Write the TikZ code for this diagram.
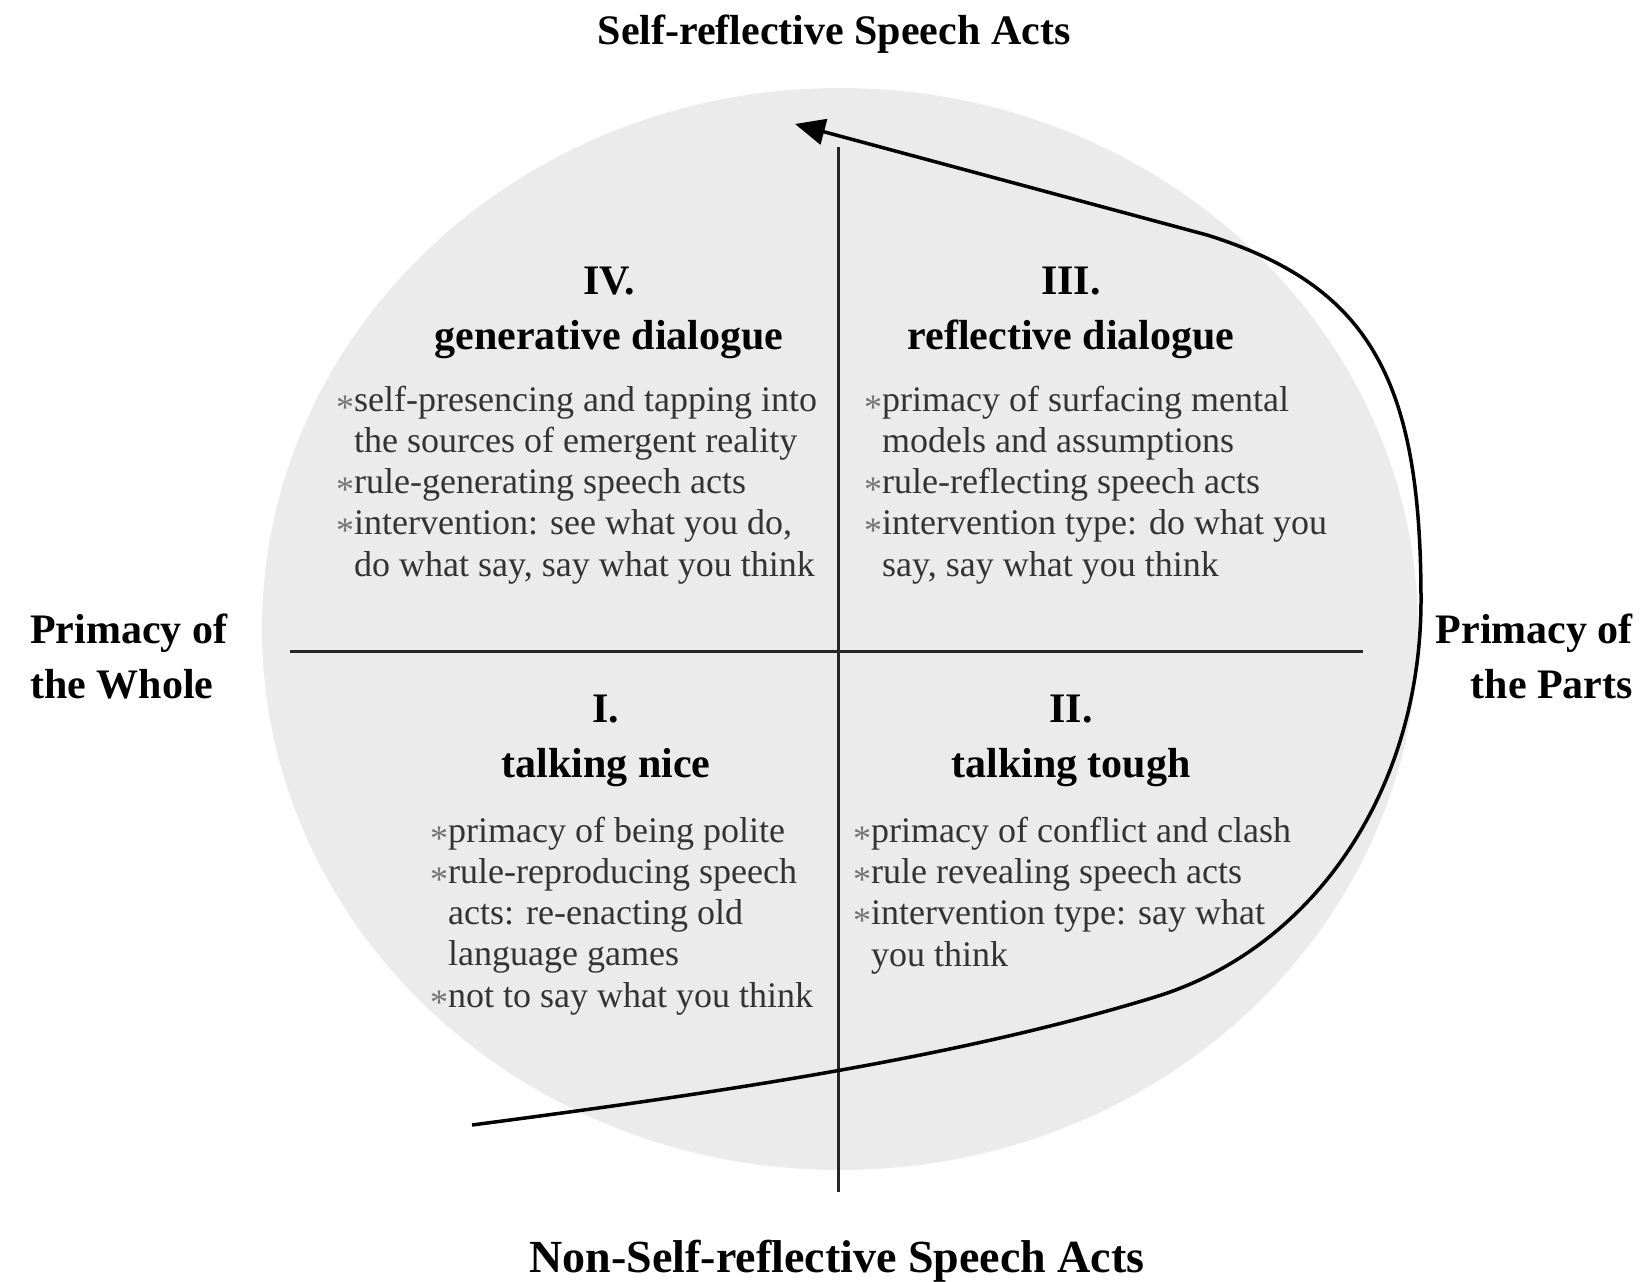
\documentclass[tikz,border=0pt]{standalone}
\usepackage{fontspec}
\setmainfont{Liberation Serif}
\usepackage{xcolor}
\usetikzlibrary{arrows.meta}
\definecolor{discgray}{gray}{0.92}
\definecolor{bodygray}{gray}{0.2}
\tikzset{
axislabel/.style={
  font=\fontsize{42pt}{55pt}\selectfont\bfseries,
  inner sep=0pt, anchor=base
},
quadhead/.style={
  font=\fontsize{42pt}{55pt}\selectfont\bfseries,
  align=center, inner sep=0pt, anchor=base
},
quadtext/.style={
  font=\fontsize{36pt}{41.2pt}\selectfont,
  text=bodygray, align=left, inner sep=0pt, anchor=base west
},
axisline/.style={line width=3pt, black!85},
flowarrow/.style={line width=3.5pt, -{Triangle[length=30pt,width=26pt]}},
}
\newcommand{\st}{\makebox[18pt][l]{\raisebox{-0.22em}{\textcolor{black!55}{*}}}}
\newcommand{\nost}{\hspace*{18pt}}

\begin{document}
\begin{tikzpicture}[x=1pt,y=-1pt]
\useasboundingbox (0,0) rectangle (1646,1282);
% the disc
\fill[discgray] (840,629) ellipse [x radius=578, y radius=541];
% the axis labels (multi-line nodes sit on their last line)
\node[axislabel] (top) at (834,44) {Self-reflective Speech Acts};
\node[axislabel, font=\fontsize{46pt}{55pt}\selectfont\bfseries] (bottom) at (837,1272) {Non-Self-reflective Speech Acts};
\node[axislabel, align=left, anchor=base west] (whole) at (30,698) {Primacy of\\the Whole};
\node[axislabel, align=right, anchor=base east] (parts) at (1633,698) {Primacy of\\the Parts};
% the quadrant rules
\coordinate (vtop) at (838,147);
\coordinate (vbot) at (838,1192);
\coordinate (hleft) at (290,651);
\coordinate (hright) at (1363,651);
\draw[axisline] (vtop) -- (vbot);
\draw[axisline] (hleft) -- (hright);
% the headings
\node[quadhead] (headIV) at (609,349) {IV.\\generative dialogue};
\node[quadhead] (headIII) at (1071,349) {III.\\reflective dialogue};
\node[quadhead] (headI) at (606,777) {I.\\talking nice};
\node[quadhead] (headII) at (1071,777) {II.\\talking tough};
% the items
\node[quadtext] (itemsIV) at (336,576) {\st self-presencing and tapping into\\
  \nost the sources of emergent reality\\
  \st rule-generating speech acts\\
  \st intervention: see what you do,\\
  \nost do what say, say what you think};
\node[quadtext] (itemsIII) at (864,576) {\st primacy of surfacing mental\\
  \nost models and assumptions\\
  \st rule-reflecting speech acts\\
  \st intervention type: do what you\\
  \nost say, say what you think};
\node[quadtext] (itemsI) at (430,1007) {\st primacy of being polite\\
  \st rule-reproducing speech\\
  \nost acts: re-enacting old\\
  \nost language games\\
  \st not to say what you think};
\node[quadtext] (itemsII) at (853,966) {\st primacy of conflict and clash\\
  \st rule revealing speech acts\\
  \st intervention type: say what\\
  \nost you think};
% the arrow
\coordinate (start) at (472,1125);
\coordinate (tip) at (795,124);
\draw[flowarrow] (start) .. controls (700,1095) and (950,1060) .. (1155,997)
  .. controls (1315,948) and (1421,789) .. (1421,600)
  .. controls (1421,380) and (1370,286) .. (1207,235) -- (tip);
\end{tikzpicture}
\end{document}
